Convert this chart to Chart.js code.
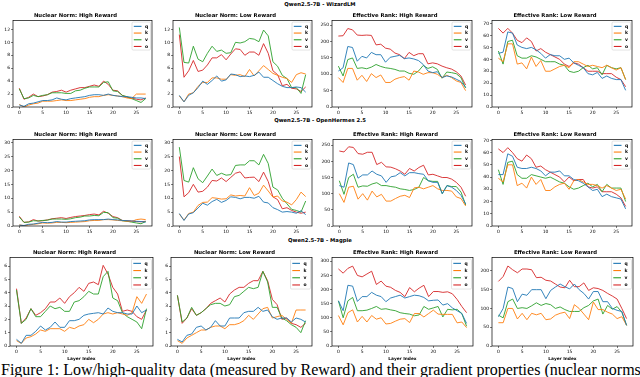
<!DOCTYPE html>
<html>
<head>
<meta charset="utf-8">
<script src="https://cdn.jsdelivr.net/npm/chart.js@4.4.1/dist/chart.umd.min.js"></script>
<style>
  body { margin: 0; width: 640px; height: 377px; background: #fff; position: relative; overflow: hidden; font-family: "DejaVu Sans"; }
  .rowt { position: absolute; left: 0; width: 640px; text-align: center; font-weight: bold; font-size: 5.3px; line-height: 6px; }
  canvas { position: absolute; }
  .cap { position: absolute; left: 1px; top: 361px; font-family: "Liberation Serif"; font-size: 16px; white-space: nowrap; }
</style>
</head>
<body>
<div class="rowt" style="top:1px">Qwen2.5-7B - WizardLM</div>
<div class="rowt" style="top:117px">Qwen2.5-7B - OpenHermes 2.5</div>
<div class="rowt" style="top:237px">Qwen2.5-7B - Magpie</div>
<div class="cap">Figure 1: Low/high-quality data (measured by Reward) and their gradient properties (nuclear norms</div>

<script>
// capas y ticks
const layers = [0,1,2,3,4,5,6,7,8,9,10,11,12,13,14,15,16,17,18,19,20,21,22,23,24,25,26,27];
const xTicks = [0, 5, 10, 15, 20, 25];
const names = ['q', 'k', 'v', 'o'];

// WizardLM
const wizNucHighQ = [0.3,0.1,0.5,0.6,0.8,1.0,1.0,1.1,1.4,1.2,1.1,1.3,1.4,1.5,1.6,1.8,1.9,1.9,1.8,2.0,1.8,1.7,1.6,1.6,1.5,1.4,1.4,1.3];
const wizNucHighK = [0.4,0.0,0.3,0.5,0.6,0.9,0.9,0.9,1.0,1.1,1.0,1.0,1.1,1.2,1.3,1.5,1.6,1.6,1.8,1.9,1.8,1.7,1.6,1.4,1.3,2.0,2.0,2.0];
const wizNucHighV = [2.8,1.3,1.4,1.8,1.6,1.8,1.9,2.2,2.2,2.2,2.1,2.1,2.5,2.6,2.9,3.1,3.1,3.1,3.8,3.9,2.5,2.4,1.8,1.6,1.3,1.0,0.7,1.3];
const wizNucHighO = [2.9,1.2,1.5,2.0,1.6,1.7,1.9,2.3,2.4,2.6,2.3,2.6,2.8,3.0,3.0,3.2,3.4,3.2,4.0,3.5,2.6,2.5,1.8,1.5,1.4,1.2,1.1,1.4];

const wizNucLowQ = [1.8,0.8,1.8,2.2,3.0,4.0,3.5,4.1,4.8,4.0,4.2,5.1,5.0,4.7,4.8,4.7,4.9,5.4,4.6,4.6,4.1,3.6,3.2,3.0,3.0,3.1,3.0,2.3];
const wizNucLowK = [1.7,0.8,2.0,2.2,3.2,3.8,3.8,4.5,4.5,4.3,4.3,5.0,4.9,5.0,4.7,5.8,4.8,5.6,6.4,5.8,5.2,4.9,4.6,4.4,3.8,5.0,5.3,5.1];
const wizNucLowV = [12.3,6.9,6.8,9.4,7.4,7.0,8.3,9.4,8.6,8.8,8.3,8.4,10.0,9.9,10.1,10.6,10.5,10.1,11.9,11.0,7.0,6.3,4.9,4.4,3.0,3.0,2.1,5.0];
const wizNucLowO = [11.2,4.6,5.6,7.2,5.5,5.7,6.5,7.6,7.6,8.1,7.3,8.2,9.0,8.9,8.0,8.5,8.5,8.0,9.8,8.3,5.6,5.0,3.3,3.5,2.9,2.8,2.4,3.1];

const wizRankHighQ = [110,120,185,182,140,155,150,167,160,160,137,152,155,158,148,150,147,142,130,110,105,108,90,95,92,85,78,60];
const wizRankHighK = [90,75,118,118,82,97,78,102,90,98,75,75,85,90,93,82,110,107,100,105,105,100,90,97,90,80,75,50];
const wizRankHighV = [125,95,145,150,118,120,117,122,130,124,120,118,115,110,110,103,100,110,127,118,123,115,88,107,105,102,90,58];
const wizRankHighO = [217,218,240,236,220,219,220,219,190,192,180,177,165,160,148,167,157,163,163,132,135,132,125,120,116,108,95,67];

const wizRankLowQ = [45,46,63,62,52,50,49,50,48,45,41,44,43,43,40,41,37,35,33,28,27,29,24,26,24,23,23,14];
const wizRankLowK = [41,38,53,53,36,37,32,42,34,39,30,30,32,34,35,33,38,38,36,34,35,34,33,35,33,31,33,23];
const wizRankLowV = [47,36,55,56,43,41,41,43,42,40,38,38,38,36,35,30,29,30,33,35,32,33,27,35,33,32,33,23];
const wizRankLowO = [66,62,66,62,56,54,58,55,47,49,46,44,42,40,36,34,37,36,33,30,30,30,28,28,28,25,23,17];

// OpenHermes 2.5
const herNucHighQ = [0.3,0.2,0.6,0.7,1.0,1.3,1.2,1.3,1.6,1.4,1.4,1.6,1.7,1.8,1.9,2.2,2.3,2.3,2.3,2.5,2.3,2.2,2.0,1.9,1.8,1.7,1.6,1.4];
const herNucHighK = [0.4,0.1,0.4,0.6,0.8,1.1,1.0,1.1,1.3,1.3,1.2,1.3,1.4,1.5,1.6,1.9,2.0,2.0,2.3,2.3,2.2,2.0,1.9,1.7,1.6,2.3,2.5,2.3];
const herNucHighV = [3.2,1.3,1.4,1.9,1.8,2.0,2.1,2.5,2.5,2.5,2.4,2.6,3.0,3.2,3.6,3.6,3.8,3.7,4.9,4.8,3.0,2.8,1.9,1.7,1.4,1.1,0.8,1.6];
const herNucHighO = [3.5,1.3,1.5,2.3,1.8,1.9,2.2,2.6,2.8,3.0,2.7,3.1,3.4,3.6,3.8,4.1,4.3,4.0,5.3,4.6,3.4,3.0,2.0,1.9,1.8,1.6,1.5,1.7];

const herNucLowQ = [4.5,2.0,4.3,4.8,6.5,8.2,7.5,8.8,9.6,8.5,9.2,10.5,10.3,9.8,10.3,10.3,10.0,10.7,8.6,8.3,6.6,5.9,5.0,5.2,5.0,4.6,5.5,4.1];
const herNucLowK = [4.3,2.1,4.5,5.0,7.4,8.5,8.6,10.2,10.0,9.7,9.8,11.2,10.8,11.0,10.8,13.8,11.0,11.8,14.7,12.6,10.4,10.8,9.0,8.6,7.6,9.5,12.2,10.6];
const herNucLowV = [28.4,16.4,15.8,21.0,17.0,15.6,18.0,20.5,18.2,19.0,18.3,18.5,21.8,22.0,22.0,23.5,23.5,22.0,25.8,22.5,14.0,13.0,10.0,8.0,6.0,5.6,5.0,9.0];
const herNucLowO = [25.0,10.5,12.0,15.0,12.2,12.5,14.0,16.4,16.2,17.3,16.0,17.5,19.0,19.5,17.3,17.5,17.6,16.0,19.4,16.0,10.5,9.5,6.2,6.6,5.6,5.0,4.6,5.0];

const herRankHighQ = [125,120,195,190,148,158,158,170,160,155,135,152,155,165,155,165,165,162,160,140,135,135,100,125,120,110,95,68];
const herRankHighK = [100,73,120,123,83,100,80,108,90,98,77,77,85,92,95,88,118,120,115,120,125,115,110,110,108,90,85,62];
const herRankHighV = [140,98,150,160,120,124,123,130,134,125,125,122,120,115,113,110,113,120,150,140,138,138,100,125,122,122,105,65];
const herRankHighO = [232,229,245,243,224,222,228,228,190,197,183,182,177,170,160,178,170,181,188,158,160,155,150,150,145,135,120,92];

const herRankLowQ = [42,42,59,57,48,47,47,48,47,45,41,44,44,45,41,41,38,37,35,32,29,30,24,26,24,23,22,14];
const herRankLowK = [39,36,50,50,33,35,31,40,34,38,29,29,32,34,35,30,37,38,36,34,34,33,31,33,31,29,30,22];
const herRankLowV = [46,34,52,53,42,39,39,42,41,40,39,40,38,36,35,32,30,31,33,35,32,34,28,34,31,31,31,20];
const herRankLowO = [63,60,64,60,55,53,58,55,48,49,46,44,42,40,36,40,37,38,38,32,31,32,28,28,28,26,23,16];

// Magpie
const magNucHighQ = [0.5,0.2,0.8,0.8,1.1,1.5,1.2,1.4,1.8,1.4,1.4,1.9,1.9,2.0,2.3,2.4,2.45,2.5,2.4,2.85,2.6,2.5,2.5,2.4,2.4,3.0,2.5,2.7];
const magNucHighK = [0.4,0.2,0.6,0.7,0.9,1.2,1.1,1.3,1.3,1.3,1.1,1.4,1.3,1.5,1.6,2.0,1.75,2.0,2.4,2.5,2.4,2.5,2.4,2.3,2.5,3.7,3.2,3.9];
const magNucHighV = [4.2,1.7,2.0,2.8,2.2,2.2,2.6,3.0,2.8,2.9,2.6,2.6,3.3,3.4,3.7,4.1,3.9,3.9,5.2,5.6,3.6,3.4,2.5,2.2,2.0,1.8,1.3,2.8];
const magNucHighO = [4.3,1.7,2.1,2.8,2.3,2.5,2.8,3.3,3.3,3.6,3.2,3.7,4.0,4.4,4.1,4.7,4.8,4.6,6.05,5.4,4.4,3.9,2.6,2.7,2.6,2.2,2.0,2.7];

const magNucLowQ = [0.5,0.3,0.8,0.9,1.4,1.5,1.2,1.4,1.9,1.5,1.5,2.1,2.1,2.1,2.5,2.6,2.6,2.9,2.6,2.7,2.2,2.0,2.1,2.1,1.8,2.1,2.0,1.8];
const magNucLowK = [0.4,0.2,0.6,0.8,1.0,1.2,1.2,1.4,1.5,1.5,1.3,1.6,1.6,1.7,1.9,2.3,2.0,2.4,2.8,2.9,2.1,2.2,2.3,2.0,1.7,2.7,2.7,2.7];
const magNucLowV = [3.8,1.8,2.1,2.9,2.3,2.5,2.8,3.1,3.2,3.2,3.0,3.1,3.7,3.8,4.1,4.4,4.3,4.4,5.6,4.8,2.9,2.9,2.1,1.9,1.6,1.4,1.0,1.9];
const magNucLowO = [3.8,1.7,2.1,2.8,2.3,2.5,2.8,3.2,3.4,3.6,3.3,3.9,4.2,4.4,4.4,4.7,4.9,4.9,5.6,4.9,3.5,3.1,2.0,2.1,1.7,1.6,1.4,1.7];

const magRankHighQ = [160,125,215,212,158,175,175,190,180,175,157,170,175,180,170,175,180,178,172,160,162,163,145,150,135,125,115,80];
const magRankHighK = [108,75,118,128,85,105,85,108,95,100,78,80,88,95,97,83,115,115,103,115,127,113,112,112,112,82,85,65];
const magRankHighV = [160,100,160,172,125,125,127,133,140,130,132,128,125,118,115,113,107,110,140,130,135,140,103,130,128,130,115,70];
const magRankHighO = [273,258,275,283,250,245,255,265,218,230,212,208,197,190,175,207,192,205,215,175,193,193,190,192,185,165,140,118];

const magRankLowQ = [78,100,157,153,118,138,135,150,150,150,126,148,157,165,158,152,165,150,140,125,145,145,118,118,100,95,92,55];
const magRankLowK = [62,62,100,100,72,87,70,87,83,87,70,72,82,87,90,73,110,100,85,70,117,97,97,90,85,73,78,55];
const magRankLowV = [82,75,118,125,100,102,100,107,115,108,113,110,100,104,97,92,92,92,102,108,120,125,85,108,98,105,90,55];
const magRankLowO = [172,185,213,203,195,205,205,203,182,183,175,173,165,157,155,175,158,158,168,148,155,153,148,140,133,125,100,73];

// ticks del eje y
const ticksNuc12 = [0, 2, 4, 6, 8, 10, 12];
const ticksNuc30 = [0, 5, 10, 15, 20, 25, 30];
const ticksNuc6 = [0, 1, 2, 3, 4, 5, 6];
const ticksRank250 = [0, 50, 100, 150, 200, 250];
const ticksRank300 = [0, 50, 100, 150, 200, 250, 300];
const ticksRank200 = [0, 50, 100, 150, 200];
const ticksRank70 = [0, 10, 20, 30, 40, 50, 60, 70];

const colors = ['#1f77b4', '#ff7f0e', '#2ca02c', '#d62728'];

// paneles: título, series, límite y ticks; caja del área del gráfico [izq, arriba, der, abajo]
const panels = [
  { title: 'Nuclear Norm: High Reward', s: [wizNucHighQ, wizNucHighK, wizNucHighV, wizNucHighO], yMax: 13.4, yt: ticksNuc12, row: 0, box: [13, 20, 152, 107] },
  { title: 'Nuclear Norm: Low Reward', s: [wizNucLowQ, wizNucLowK, wizNucLowV, wizNucLowO], yMax: 13.4, yt: ticksNuc12, row: 0, box: [173, 20, 312, 107] },
  { title: 'Effective Rank: High Reward', s: [wizRankHighQ, wizRankHighK, wizRankHighV, wizRankHighO], yMax: 265, yt: ticksRank250, row: 0, box: [332, 20, 472, 107] },
  { title: 'Effective Rank: Low Reward', s: [wizRankLowQ, wizRankLowK, wizRankLowV, wizRankLowO], yMax: 72.7, yt: ticksRank70, row: 0, box: [492, 20, 632, 107] },
  { title: 'Nuclear Norm: High Reward', s: [herNucHighQ, herNucHighK, herNucHighV, herNucHighO], yMax: 31.2, yt: ticksNuc30, row: 1, box: [13, 139, 152, 226] },
  { title: 'Nuclear Norm: Low Reward', s: [herNucLowQ, herNucLowK, herNucLowV, herNucLowO], yMax: 31.2, yt: ticksNuc30, row: 1, box: [173, 139, 312, 226] },
  { title: 'Effective Rank: High Reward', s: [herRankHighQ, herRankHighK, herRankHighV, herRankHighO], yMax: 268, yt: ticksRank250, row: 1, box: [333, 139, 472, 226] },
  { title: 'Effective Rank: Low Reward', s: [herRankLowQ, herRankLowK, herRankLowV, herRankLowO], yMax: 70.8, yt: ticksRank70, row: 1, box: [492, 139, 632, 226] },
  { title: 'Nuclear Norm: High Reward', s: [magNucHighQ, magNucHighK, magNucHighV, magNucHighO], yMax: 6.65, yt: ticksNuc6, row: 2, box: [10, 257, 153, 346] },
  { title: 'Nuclear Norm: Low Reward', s: [magNucLowQ, magNucLowK, magNucLowV, magNucLowO], yMax: 6.65, yt: ticksNuc6, row: 2, box: [171, 257, 312, 346] },
  { title: 'Effective Rank: High Reward', s: [magRankHighQ, magRankHighK, magRankHighV, magRankHighO], yMax: 314, yt: ticksRank300, row: 2, box: [332, 257, 473, 346] },
  { title: 'Effective Rank: Low Reward', s: [magRankLowQ, magRankLowK, magRankLowV, magRankLowO], yMax: 236, yt: ticksRank200, row: 2, box: [492, 257, 633, 346] }
];

// marco completo alrededor del área (como matplotlib)
const framePlugin = {
  id: 'frame',
  afterDraw(chart) {
    const { ctx, chartArea: a } = chart;
    ctx.save();
    ctx.strokeStyle = '#000';
    ctx.lineWidth = 0.7;
    ctx.strokeRect(a.left, a.top, a.right - a.left, a.bottom - a.top);
    ctx.restore();
  }
};

// leyenda dentro del área, arriba a la derecha
const legendPlugin = {
  id: 'innerLegend',
  afterDraw(chart) {
    const { ctx, chartArea: a } = chart;
    const big = chart.options.plugins.innerLegend.big;
    const w = big ? 20 : 18.5, h = big ? 30 : 28, gap = big ? 7.2 : 6.7;
    const x = a.right - w - 1.5, y = a.top + 1.7;
    ctx.save();
    ctx.fillStyle = 'rgba(255,255,255,0.85)';
    ctx.strokeStyle = '#d0d0d0';
    ctx.lineWidth = 0.6;
    ctx.beginPath();
    ctx.roundRect(x, y, w, h, 1.2);
    ctx.fill();
    ctx.stroke();
    chart.data.datasets.forEach((d, i) => {
      const ly = y + 4.3 + i * gap;
      ctx.strokeStyle = d.borderColor;
      ctx.lineWidth = 1.1;
      ctx.beginPath();
      ctx.moveTo(x + 1.8, ly);
      ctx.lineTo(x + 9.5, ly);
      ctx.stroke();
      ctx.fillStyle = '#000';
      ctx.font = 'bold 4.5px "DejaVu Sans"';
      ctx.textBaseline = 'middle';
      ctx.fillText(d.label, x + 13, ly);
    });
    ctx.restore();
  }
};

const yw = 14;
const titleH = 5.3 * 1.2 + 2;

panels.forEach(p => {
  const [L, T, R, B] = p.box;
  const xh = p.row === 2 ? 15 : 8;
  const cv = document.createElement('canvas');
  const left = L - yw, top = T - titleH;
  const width = (R - L) + 2 * yw, height = (B - top) + xh;
  cv.width = Math.round(width);
  cv.height = Math.round(height);
  cv.style.left = left + 'px';
  cv.style.top = top + 'px';
  document.body.appendChild(cv);

  new Chart(cv, {
    type: 'line',
    data: {
      datasets: p.s.map((arr, i) => ({
        label: names[i],
        data: layers.map((x, j) => ({ x: x, y: arr[j] })),
        borderColor: colors[i],
        borderWidth: 0.9,
        pointRadius: 0,
        fill: false,
        tension: 0
      }))
    },
    options: {
      responsive: false,
      animation: false,
      layout: { padding: { left: 0, right: yw, top: 0, bottom: 0 } },
      plugins: {
        legend: { display: false },
        tooltip: { enabled: false },
        innerLegend: { big: p.row === 2 },
        title: {
          display: true,
          text: p.title,
          color: '#000',
          font: { family: 'DejaVu Sans', size: 5.3, weight: 'bold', lineHeight: 1.2 },
          padding: { top: 0, bottom: 2 }
        }
      },
      scales: {
        x: {
          type: 'linear',
          min: -1.35,
          max: 28.35,
          afterBuildTicks: s => { s.ticks = xTicks.map(v => ({ value: v })); },
          afterFit: s => { s.height = xh; },
          ticks: { color: '#000', font: { family: 'DejaVu Sans', size: 4.5 }, padding: 1, maxRotation: 0, autoSkip: false },
          grid: { drawOnChartArea: false, tickLength: 2, color: '#000', lineWidth: 0.5 },
          border: { display: false },
          title: { display: p.row === 2, text: 'Layer Index', color: '#000', font: { family: 'DejaVu Sans', size: 4.3, weight: 'bold' }, padding: 0 }
        },
        y: {
          min: 0,
          max: p.yMax,
          afterBuildTicks: s => { s.ticks = p.yt.map(v => ({ value: v })); },
          afterFit: s => { s.width = yw; },
          ticks: { color: '#000', font: { family: 'DejaVu Sans', size: 4.5 }, padding: 1 },
          grid: { drawOnChartArea: false, tickLength: 2, color: '#000', lineWidth: 0.5 },
          border: { display: false }
        }
      }
    },
    plugins: [framePlugin, legendPlugin]
  });
});
</script>
</body>
</html>
